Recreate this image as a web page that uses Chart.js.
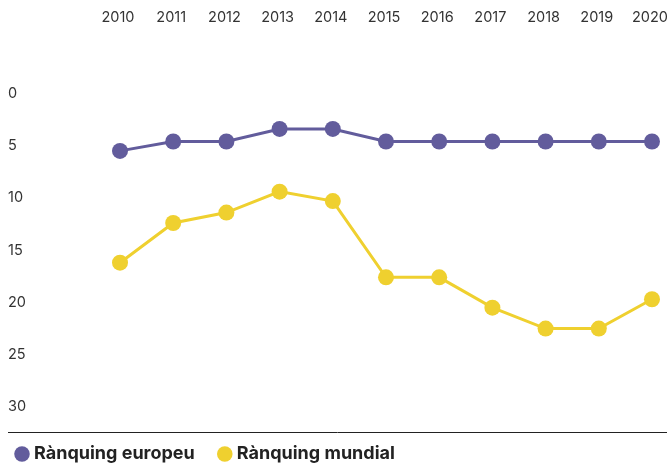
<!DOCTYPE html>
<html>
<head>
<meta charset="utf-8">
<script src="https://cdn.jsdelivr.net/npm/chart.js@4/dist/chart.umd.min.js"></script>
<style>
html,body{margin:0;padding:0;background:#fff;}
#wrap{width:667px;height:468px;position:relative;}
</style>
</head>
<body>
<div id="wrap"><canvas id="c" width="667" height="468"></canvas></div>
<script>
const years = ['2010','2011','2012','2013','2014','2015','2016','2017','2018','2019','2020'];
const europeu = [5.5, 4.6, 4.6, 3.4, 3.4, 4.6, 4.6, 4.6, 4.6, 4.6, 4.6];
const mundial = [16.2, 12.4, 11.4, 9.4, 10.3, 17.6, 17.6, 20.5, 22.5, 22.5, 19.7];
const yTicks = [0, 5, 10, 15, 20, 25, 30];
const labelEuropeu = 'Rànquing europeu';
const labelMundial = 'Rànquing mundial';

const PURPLE = '#625c9c';
const YELLOW = '#efd02f';

const baseLine = {
  id: 'baseLine',
  afterLayout(chart) {
    if (chart.legend) {
      chart.legend.top -= 14;
      chart.legend.left -= 16;
    }
  },
  afterDatasetsDraw(chart) {
    const ctx = chart.ctx;
    const py = Math.round(chart.chartArea.bottom) + 0.5;
    ctx.save();
    ctx.strokeStyle = '#222';
    ctx.lineWidth = 1;
    ctx.beginPath();
    ctx.moveTo(8, py);
    ctx.lineTo(chart.width, py);
    ctx.stroke();
    ctx.restore();
  }
};

new Chart(document.getElementById('c'), {
  type: 'line',
  data: {
    labels: years,
    datasets: [
      {label: labelEuropeu, data: europeu, borderColor: PURPLE, backgroundColor: PURPLE,
       borderWidth: 3, pointRadius: 8, pointHoverRadius: 8, pointBorderWidth: 0, tension: 0},
      {label: labelMundial, data: mundial, borderColor: YELLOW, backgroundColor: YELLOW,
       borderWidth: 3, pointRadius: 8, pointHoverRadius: 8, pointBorderWidth: 0, tension: 0}
    ]
  },
  options: {
    responsive: false,
    animation: false,
    layout: {padding: {left: 8, right: 0, top: 9, bottom: -19}},
    plugins: {
      tooltip: {enabled: false},
      legend: {
        position: 'bottom',
        align: 'start',
        labels: {
          usePointStyle: true,
          pointStyle: 'circle',
          boxWidth: 6,
          boxHeight: 11,
          padding: 27,
          color: '#222',
          font: {family: 'Inter', size: 18, weight: 'bold'}
        }
      }
    },
    scales: {
      x: {
        position: 'top',
        offset: false,
        afterFit(scale) { scale.paddingRight = 15; },
        grid: {display: true, color: 'rgba(0,0,0,0)', drawOnChartArea: false, drawTicks: true, tickLength: 67},
        border: {display: false},
        ticks: {color: '#333', font: {family: 'Inter', size: 14.5}, padding: 0, labelOffset: -2, maxRotation: 0, autoSkip: false}
      },
      y: {
        reverse: true,
        min: 0,
        max: 32.4,
        afterBuildTicks(scale) { scale.ticks = yTicks.map(v => ({value: v})); },
        afterFit(scale) { scale.width = 112; },
        grid: {display: false, drawTicks: false},
        border: {display: false},
        ticks: {color: '#333', font: {family: 'Inter', size: 14.5}, crossAlign: 'far', padding: 0}
      }
    }
  },
  plugins: [baseLine]
});
</script>
</body>
</html>
